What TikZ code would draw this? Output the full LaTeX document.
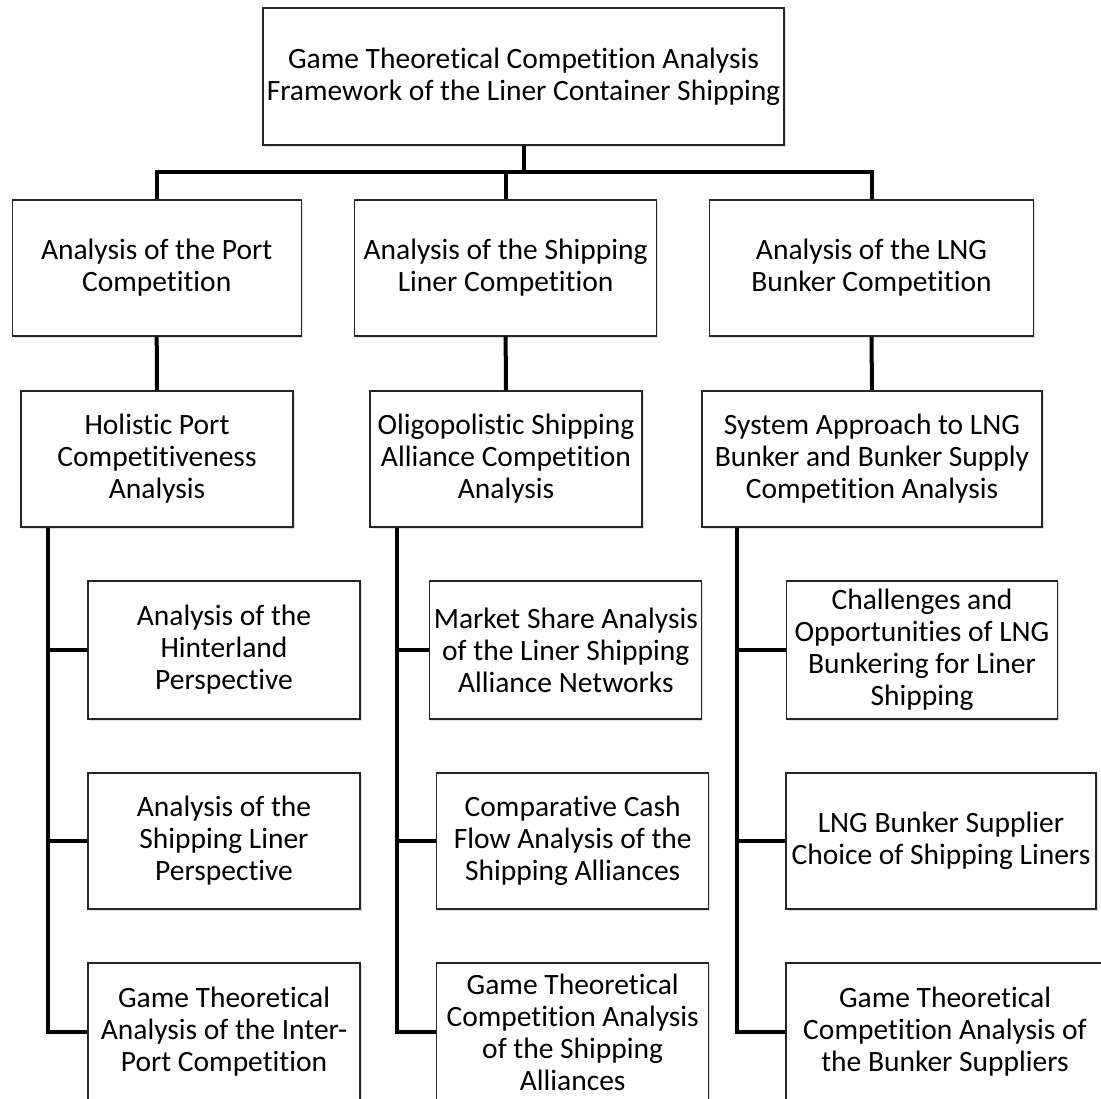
\documentclass[tikz,border=0pt]{standalone}
\usepackage{fontspec}
\setmainfont{Carlito}[Ligatures=NoCommon]
\usetikzlibrary{shadows}
\begin{document}
\begin{tikzpicture}[x=1pt, y=-1pt,
  box/.style={draw=black!85, line width=1.3pt, fill=white, align=center,
    inner sep=0pt, font=\fontsize{29.5}{32}\selectfont,
    drop shadow={shadow xshift=1.5pt, shadow yshift=-2pt, opacity=0.25}},
  link/.style={line width=4pt, black, line join=miter}]
\useasboundingbox (0,0) rectangle (1101,1099);

% root
\node[box, minimum width=521, minimum height=137] (top) at (523.5,76.5)
  {Game Theoretical Competition Analysis\\Framework of the Liner Container Shipping};

% first level
\node[box, minimum width=289, minimum height=136] (port) at (156.7,268)
  {Analysis of the Port\\Competition};
\node[box, minimum width=302, minimum height=136] (ship) at (505.6,268)
  {Analysis of the Shipping\\Liner Competition};
\node[box, minimum width=324, minimum height=136] (lng) at (871.5,268)
  {Analysis of the LNG\\Bunker Competition};

% second level
\node[box, minimum width=272, minimum height=136] (hol) at (157,459)
  {Holistic Port\\Competitiveness\\Analysis};
\node[box, minimum width=272, minimum height=136] (oli) at (506,459)
  {Oligopolistic Shipping\\Alliance Competition\\Analysis};
\node[box, minimum width=340, minimum height=136] (sys) at (872,459)
  {System Approach to LNG\\Bunker and Bunker Supply\\Competition Analysis};

% port column
\node[box, minimum width=272, minimum height=138] (a1) at (224,650)
  {Analysis of the\\Hinterland\\Perspective};
\node[box, minimum width=272, minimum height=136] (a2) at (224,841)
  {Analysis of the\\Shipping Liner\\Perspective};
\node[box, minimum width=272, minimum height=138] (a3) at (224,1032)
  {Game Theoretical\\Analysis of the Inter-\\Port Competition};

% shipping liner column
\node[box, minimum width=272, minimum height=138] (b1) at (565.8,650)
  {Market Share Analysis\\of the Liner Shipping\\Alliance Networks};
\node[box, minimum width=272, minimum height=136] (b2) at (572.7,841)
  {Comparative Cash\\Flow Analysis of the\\Shipping Alliances};
\node[box, minimum width=272, minimum height=138] (b3) at (572.7,1032)
  {Game Theoretical\\Competition Analysis\\of the Shipping\\Alliances};

% LNG bunker column
\node[box, minimum width=271, minimum height=138] (c1) at (922,650)
  {Challenges and\\Opportunities of LNG\\Bunkering for Liner\\Shipping};
\node[box, minimum width=310, minimum height=136] (c2) at (941,841)
  {LNG Bunker Supplier\\Choice of Shipping Liners};
\node[box, minimum width=318, minimum height=138] (c3) at (945,1032)
  {Game Theoretical\\Competition Analysis of\\the Bunker Suppliers};

% rails of the three columns
\coordinate (bar) at (0,172);
\coordinate (av) at (48.4,0);
\coordinate (bv) at (397.4,0);
\coordinate (cv) at (737,0);

% root to first level
\draw[link] (top.south) -- (top.south |- bar);
\draw[link] (port.north) |- (bar -| lng.north) -- (lng.north);
\draw[link] (ship.north) -- (ship.north |- bar);

% first to second level
\draw[link] (port.south) -- (hol.north);
\draw[link] (ship.south) -- (oli.north);
\draw[link] (lng.south) -- (sys.north);

% second level to leaves
\draw[link] (hol.south -| av) |- (a3.west);
\draw[link] (a1.west -| av) -- (a1.west);
\draw[link] (a2.west -| av) -- (a2.west);

\draw[link] (oli.south -| bv) |- (b3.west);
\draw[link] (b1.west -| bv) -- (b1.west);
\draw[link] (b2.west -| bv) -- (b2.west);

\draw[link] (sys.south -| cv) |- (c3.west);
\draw[link] (c1.west -| cv) -- (c1.west);
\draw[link] (c2.west -| cv) -- (c2.west);
\end{tikzpicture}
\end{document}
